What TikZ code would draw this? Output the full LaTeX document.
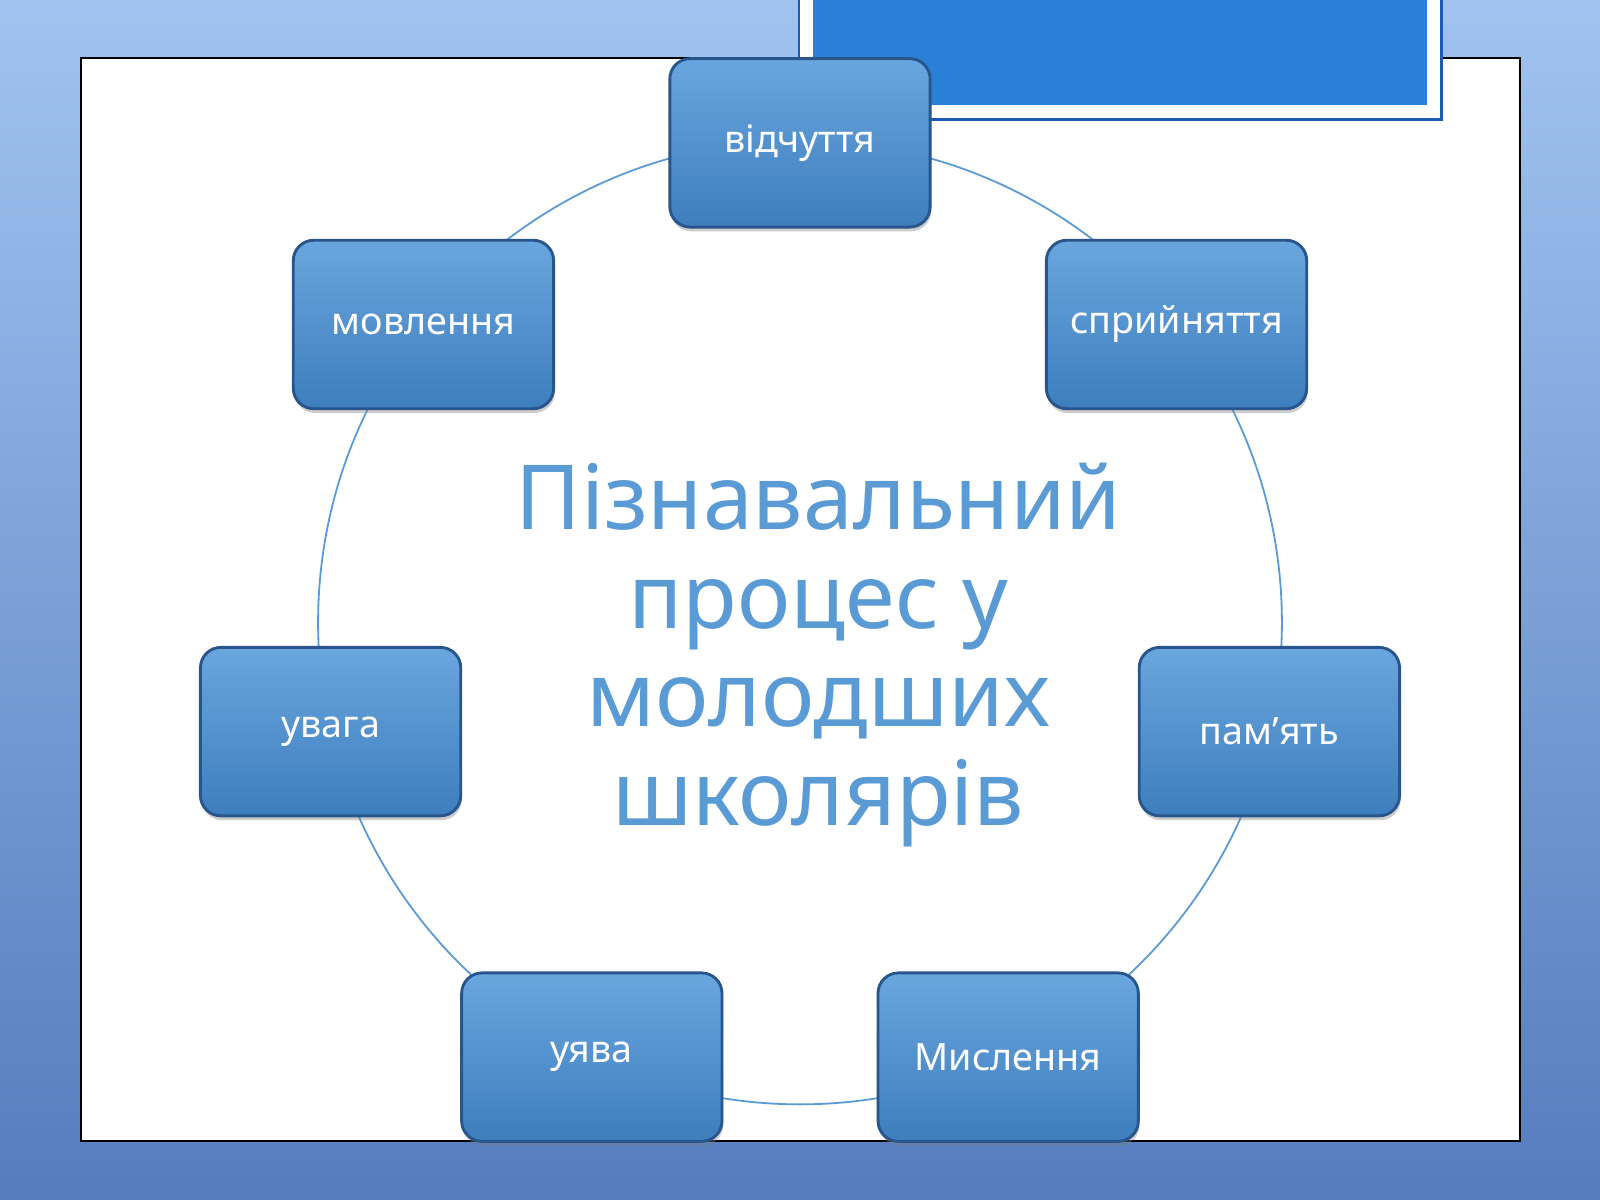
\documentclass[tikz,border=0pt]{standalone}
\usepackage{fontspec}
\setmainfont{Noto Sans}
\usetikzlibrary{shadows}
\definecolor{tcol}{RGB}{91,155,213}
\definecolor{btop}{RGB}{106,166,222}
\definecolor{bbot}{RGB}{62,126,190}
\definecolor{bdraw}{RGB}{40,85,140}
\definecolor{bgtop}{RGB}{160,195,240}
\definecolor{bgbot}{RGB}{85,125,190}
\definecolor{hdr}{RGB}{42,128,215}
\definecolor{hdrb}{RGB}{30,90,180}
\begin{document}
\begin{tikzpicture}[x=0.01cm,y=-0.01cm,
 proc/.style={draw=bdraw,line width=0.8pt,rounded corners=0.2cm,minimum width=2.55cm,minimum height=1.65cm,
   top color=btop,bottom color=bbot,
   text=white,font=\fontsize{10.5}{12}\selectfont,drop shadow={shadow xshift=0.3pt,shadow yshift=-1.2pt,opacity=0.4}},
]
\useasboundingbox (0,0) rectangle (1568,1176);
\shade[top color=bgtop,bottom color=bgbot] (0,0) rectangle (1568,1176);
\fill[white,draw=black,line width=0.6pt] (79,57) rectangle (1490,1118);
\filldraw[fill=white,draw=hdrb,line width=0.8pt] (783,-5) rectangle (1413,117);
\fill[hdr] (797,-5) rectangle (1398,103);
\node[circle,draw=tcol,line width=0.5pt,minimum size=9.44cm] (c) at (784,610) {};
\node[text=tcol,font=\fontsize{25}{27.5}\selectfont,align=center] (t) at (802,642) {Пізнавальний\\процес у\\молодших\\школярів};
\node[proc] (a) at (784,140) {відчуття};
\node[proc] (b) at (1153,318) {сприйняття};
\node[proc] (p) at (1244,717) {пам'ять};
\node[proc] (m) at (988,1036) {Мислення};
\node[proc] (u) at (580,1036) {уява};
\node[proc] (g) at (324,717) {увага};
\node[proc] (l) at (415,318) {мовлення};
\end{tikzpicture}
\end{document}
